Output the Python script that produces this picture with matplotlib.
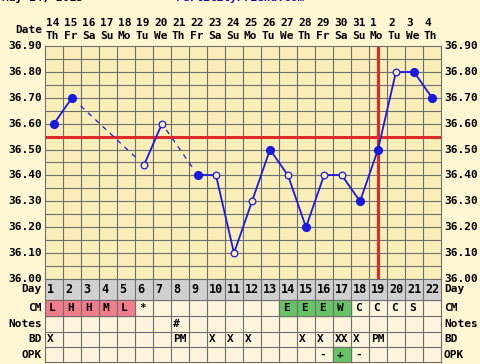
import matplotlib
matplotlib.use("Agg")
import matplotlib.pyplot as plt
from matplotlib.patches import Rectangle

days = list(range(1, 23))
dates = [14, 15, 16, 17, 18, 19, 20, 21, 22, 23, 24, 25, 26, 27, 28, 29, 30, 31, 1, 2, 3, 4]
weekdays = ["Th", "Fr", "Sa", "Su", "Mo", "Tu", "We", "Th", "Fr", "Sa", "Su",
            "Mo", "Tu", "We", "Th", "Fr", "Sa", "Su", "Mo", "Tu", "We", "Th"]
temps = [36.60, 36.70, None, None, None, 36.44, 36.60, None, 36.40, 36.40, 36.10,
         36.30, 36.50, 36.40, 36.20, 36.40, 36.40, 36.30, 36.50, 36.80, 36.80, 36.70]
open_days = [6, 7, 10, 11, 12, 14, 16, 17, 20]
coverline = 36.55
ovulation_day = 19
cm = ["L", "H", "H", "M", "L", "*", "", "", "", "", "", "", "", "E", "E", "E", "W", "C", "C", "C", "S", ""]
cm_pink = [1, 2, 3, 4, 5]
cm_green = [14, 15, 16, 17]
notes = {8: "#"}
bd = {1: "X", 8: "PM", 10: "X", 11: "X", 12: "X", 15: "X", 16: "X", 17: "XX", 18: "X", 19: "PM"}
opk = {16: "-", 17: "+", 18: "-"}
opk_green = [17]
yticks = [36.00, 36.10, 36.20, 36.30, 36.40, 36.50, 36.60, 36.70, 36.80, 36.90]

W, H = 480, 364
BG = "#fff7d4"
PLOT_BG = "#faeeb8"
CELL_BG = "#fcf4dc"
GRID = "#6e6e6e"
BLUE = "#1a1adc"
RED = "#dd2a2a"
FONT = dict(family="DejaVu Sans Mono", weight="bold", size=8)

fig = plt.figure(figsize=(W / 100, H / 100), dpi=100, facecolor=BG)


def px_axes(x0, y0, x1, y1):
    return fig.add_axes([x0 / W, 1 - y1 / H, (x1 - x0) / W, (y1 - y0) / H])


left, right, top, bottom = 45, 441, 46, 279
ax = px_axes(left, top, right, bottom)
ax.set_facecolor(PLOT_BG)
ax.set_xlim(0.5, 22.5)
ax.set_ylim(36.0, 36.9)
for x in range(1, 22):
    ax.axvline(x + 0.5, color=GRID, lw=0.8, zorder=1)
for i in range(1, 18):
    ax.axhline(36.0 + i * 0.05, color=GRID, lw=0.8, zorder=1)
for s in ax.spines.values():
    s.set_color(GRID)
ax.set_xticks([])
ax.set_yticks([])

# coverline and ovulation line
ax.axhline(coverline, color=RED, lw=2.2, zorder=2)
ax.axvline(ovulation_day, color=RED, lw=2.2, zorder=2)

# temperature segments
pts = [(d, t) for d, t in zip(days, temps) if t is not None]
for (d0, t0), (d1, t1) in zip(pts[:-1], pts[1:]):
    if d1 - d0 == 1:
        ax.plot([d0, d1], [t0, t1], color=BLUE, lw=1.3, zorder=3, solid_capstyle="round")
    else:
        f = 0.12
        ax.plot([d0 + f * (d1 - d0), d1 - f * (d1 - d0)],
                [t0 + f * (t1 - t0), t1 - f * (t1 - t0)],
                color=BLUE, lw=0.9, ls=(0, (4, 4)), zorder=3)
for d, t in pts:
    if d in open_days:
        ax.plot(d, t, "o", ms=4.8, mfc=PLOT_BG, mec=BLUE, mew=0.9, zorder=4)
    else:
        ax.plot(d, t, "o", ms=5.6, mfc=BLUE, mec=BLUE, zorder=4)

# y labels both sides
for v in yticks:
    y = bottom - (v - 36.0) / 0.9 * (bottom - top)
    fig.text(42 / W, 1 - y / H, f"{v:.2f}", ha="right", va="center", **FONT)
    fig.text(444 / W, 1 - y / H, f"{v:.2f}", ha="left", va="center", **FONT)

# header
fig.text(2 / W, 1 + 2 / H, "May 14, 2013", ha="left", va="center", **FONT)
fig.text(240 / W, 1 + 2 / H, "FertilityFriend.com", ha="center", va="center",
         color="#1010c0", **FONT)
fig.text(42 / W, 1 - 30 / H, "Date", ha="right", va="center", **FONT)
for d, dt, wd in zip(days, dates, weekdays):
    x = left + (d - 1) * 18 + 1
    fig.text(x / W, 1 - 23 / H, str(dt), ha="left", va="center", **FONT)
    fig.text(x / W, 1 - 36 / H, wd, ha="left", va="center", **FONT)

# table below
rows = ["Day", "CM", "Notes", "BD", "OPK"]
row_edges = [279, 300, 316, 332, 347, 362]
tab = px_axes(left, 279, right, 362)
tab.set_xlim(0.5, 22.5)
tab.set_ylim(362, 279)
tab.set_xticks([])
tab.set_yticks([])
tab.set_facecolor(CELL_BG)
for s in tab.spines.values():
    s.set_color(GRID)
tab.add_patch(Rectangle((0.5, 279), 22, 21, color="#d0d0d0", zorder=0))
for d in cm_pink:
    tab.add_patch(Rectangle((d - 0.5, 300), 1, 16, color="#f07c8c", zorder=0))
for d in cm_green:
    tab.add_patch(Rectangle((d - 0.5, 300), 1, 16, color="#66c466", zorder=0))
for d in opk_green:
    tab.add_patch(Rectangle((d - 0.5, 347), 1, 15, color="#66c466", zorder=0))
for x in range(1, 22):
    tab.axvline(x + 0.5, color=GRID, lw=0.8, zorder=1)
for y in row_edges[1:-1]:
    tab.axhline(y, color=GRID, lw=0.8, zorder=1)

for name, y0, y1 in zip(rows, row_edges[:-1], row_edges[1:]):
    yc = (y0 + y1) / 2
    fig.text(42 / W, 1 - yc / H, name, ha="right", va="center", **FONT)
    fig.text(444 / W, 1 - yc / H, name, ha="left", va="center", **FONT)

def cell(d, row, txt, size=8):
    yc = (row_edges[row] + row_edges[row + 1]) / 2
    tab.text(d - 0.38, yc, txt, ha="left", va="center", zorder=3,
             **{**FONT, "size": size})

for d in days:
    cell(d, 0, str(d), size=8.5)
for d, c in zip(days, cm):
    if c:
        cell(d + 0.1, 1, c)
for d, t in notes.items():
    cell(d, 2, t)
for d, t in bd.items():
    cell(d, 3, t)
for d, t in opk.items():
    cell(d + 0.1, 4, t)

fig.savefig("out.png", dpi=100, facecolor=BG)
